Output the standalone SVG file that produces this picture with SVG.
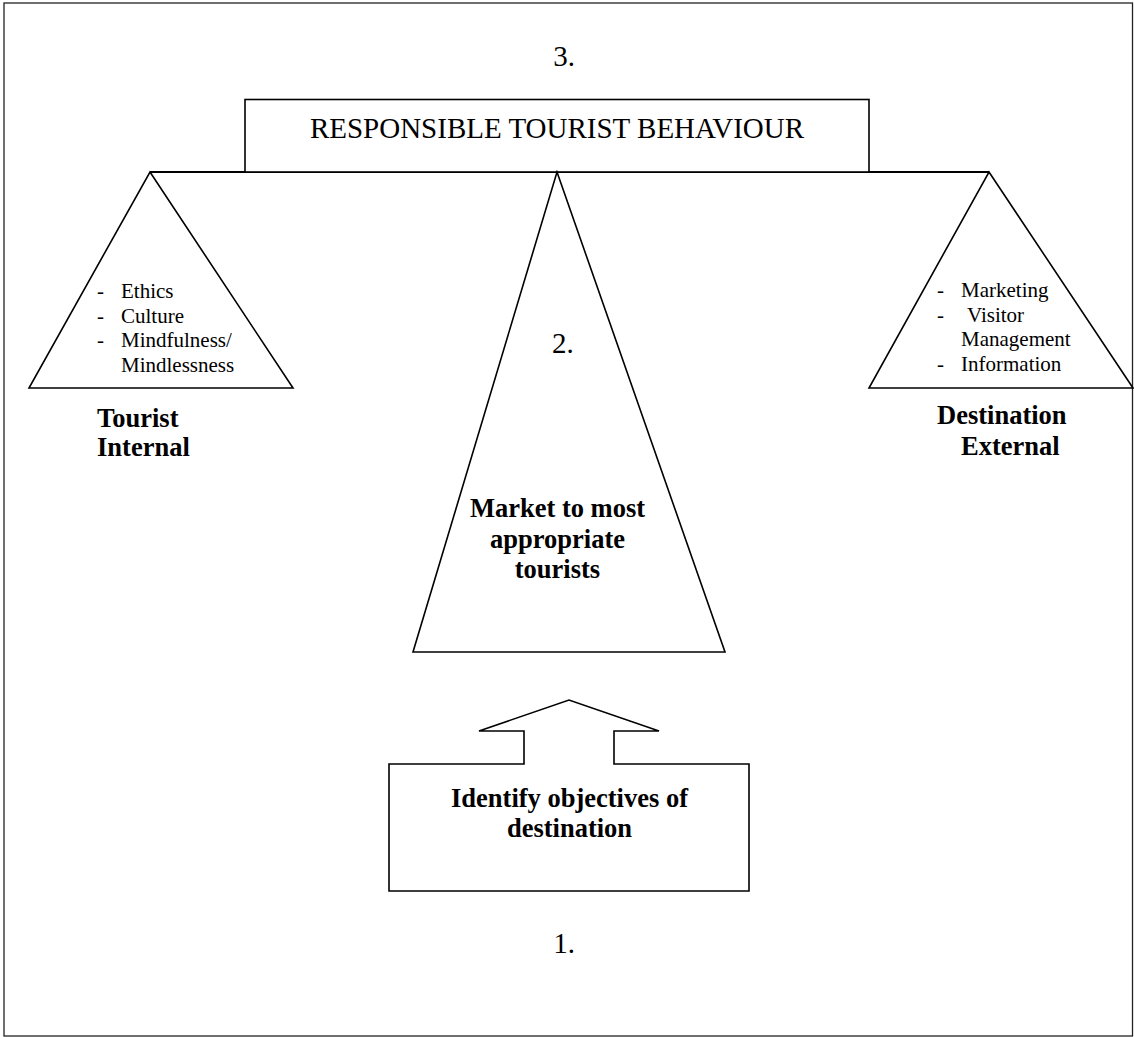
<svg xmlns="http://www.w3.org/2000/svg" width="1134" height="1037" viewBox="0 0 1134 1037">
  <style>
    .shape { fill: #ffffff; stroke: #000000; stroke-width: 1.6; stroke-linejoin: miter; }
    .t { font-family: "Liberation Serif", "Times New Roman", serif; fill: #000000; }
    .num { font-size: 29px; }
    .title { font-size: 29px; }
    .small { font-size: 21px; }
    .bold { font-size: 26.5px; font-weight: bold; }
    .beam { stroke: #000000; stroke-width: 2.2; fill: none; }
  </style>
  <rect x="0" y="0" width="1134" height="1037" fill="#ffffff"/>
  <g id="frame">
    <rect x="4" y="3" width="1128.5" height="1033" fill="none" stroke="#222222" stroke-width="1.3"/>
  </g>

  <g id="connectors">
    <line class="beam" x1="150" y1="172" x2="989" y2="172"/>
  </g>

  <g id="title-box">
    <rect class="shape" x="245" y="99.5" width="624" height="72.5"/>
    <text class="t title" x="557" y="138" text-anchor="middle">RESPONSIBLE TOURIST BEHAVIOUR</text>
  </g>
  <text class="t num" x="564" y="65.5" text-anchor="middle">3.</text>

  <g id="tourist-internal">
    <polygon class="shape" points="150,172 293,388 29,388"/>
    <text class="t small" x="97" y="298">-</text>
    <text class="t small" x="121" y="298">Ethics</text>
    <text class="t small" x="97" y="322.5">-</text>
    <text class="t small" x="121" y="322.5">Culture</text>
    <text class="t small" x="97" y="347">-</text>
    <text class="t small" x="121" y="347">Mindfulness/</text>
    <text class="t small" x="121" y="371.5">Mindlessness</text>
    <text class="t bold" x="97" y="427">Tourist</text>
    <text class="t bold" x="97" y="456">Internal</text>
  </g>

  <g id="market">
    <polygon class="shape" points="557,172 725,652 413,652"/>
    <text class="t num" x="552" y="353">2.</text>
    <text class="t bold" x="557.5" y="517" text-anchor="middle">Market to most</text>
    <text class="t bold" x="557.5" y="547.5" text-anchor="middle">appropriate</text>
    <text class="t bold" x="557.5" y="578" text-anchor="middle">tourists</text>
  </g>

  <g id="destination-external">
    <polygon class="shape" points="989,172 1133,388 869,388"/>
    <text class="t small" x="937" y="297">-</text>
    <text class="t small" x="961" y="297">Marketing</text>
    <text class="t small" x="937" y="321.5">-</text>
    <text class="t small" x="967" y="321.5">Visitor</text>
    <text class="t small" x="961" y="346">Management</text>
    <text class="t small" x="937" y="370.5">-</text>
    <text class="t small" x="961" y="370.5">Information</text>
    <text class="t bold" x="937" y="424">Destination</text>
    <text class="t bold" x="961" y="455">External</text>
  </g>

  <g id="identify-objectives">
    <polygon class="shape" points="389,764 524,764 524,731 479,731 569,700 659,731 614,731 614,764 749,764 749,891 389,891"/>
    <text class="t bold" x="569.5" y="806.5" text-anchor="middle">Identify objectives of</text>
    <text class="t bold" x="569.5" y="836.5" text-anchor="middle">destination</text>
  </g>
  <text class="t num" x="564" y="953" text-anchor="middle">1.</text>
</svg>
